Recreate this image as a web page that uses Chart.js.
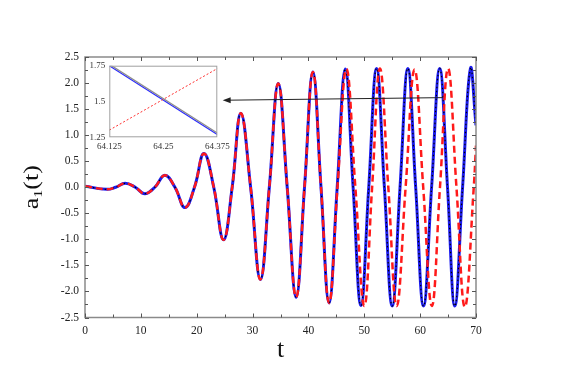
<!DOCTYPE html>
<html>
<head>
<meta charset="utf-8">
<script src="https://cdn.jsdelivr.net/npm/chart.js@4.4.1/dist/chart.umd.min.js"></script>
<style>
  html, body { margin: 0; padding: 0; background: #fff; }
  #wrap { position: relative; width: 561px; height: 375px; }
  #main { position: absolute; left: 0; top: 0; }
  #inset { position: absolute; left: 80px; top: 60px; }
</style>
</head>
<body>
<div id="wrap">
  <canvas id="main" width="561" height="375"></canvas>
  <canvas id="inset" width="150" height="100"></canvas>
</div>
<script>
// Blue solid curve (the black dotted one lies on it): extrema and zero crossings
const tBlue = [0, 3.9, 5.5, 7.2, 9.0, 10.7, 12.5, 14.3, 16.1, 17.9, 19.6, 21.3, 23.05, 24.8, 26.35,
  27.9, 29.65, 31.4, 33.0, 34.6, 36.2, 37.8, 39.3, 40.8, 42.25, 43.7, 45.15, 46.6, 48.0, 49.4,
  50.8, 52.2, 53.6, 55.0, 56.4, 57.8, 59.2, 60.6, 62.05, 63.5, 64.9, 66.2, 67.6, 69.0, 70];
const aBlue = [0.02, -0.04, 0, 0.075, 0, -0.125, 0, 0.23, 0, -0.39, 0, 0.65, 0, -1.01, 0,
  1.42, 0, -1.77, 0, 1.99, 0, -2.11, 0, 2.21, 0, -2.22, 0, 2.27, 0, -2.27,
  0, 2.28, 0, -2.28, 0, 2.28, 0, -2.28, 0, 2.28, 0, -2.28, 0, 2.28, 1.19];

// Red dashed curve, drifts behind the blue one after t ~ 45
const tRed = [0, 3.9, 5.5, 7.2, 9.0, 10.7, 12.5, 14.3, 16.1, 17.9, 19.6, 21.3, 23.05, 24.8, 26.35,
  27.9, 29.65, 31.4, 33.0, 34.6, 36.2, 37.8, 39.3, 40.8, 42.25, 43.7, 45.2, 46.8, 48.4, 50.0,
  51.4, 52.8, 54.3, 55.8, 57.4, 59.0, 60.55, 62.1, 63.55, 65.0, 66.5, 68.0, 69.6, 70];
const aRed = [0.02, -0.04, 0, 0.075, 0, -0.125, 0, 0.23, 0, -0.39, 0, 0.65, 0, -1.01, 0,
  1.42, 0, -1.77, 0, 1.99, 0, -2.11, 0, 2.21, 0, -2.22, 0, 2.27, 0, -2.28,
  0, 2.28, 0, -2.28, 0, 2.26, 0, -2.28, 0, 2.28, 0, -2.30, 0, 0.8];

// Main axes ticks
const xTicks = [0, 10, 20, 30, 40, 50, 60, 70];
const xMinor = [5, 15, 25, 35, 45, 55, 65];
const yTicks = [-2.5, -2.0, -1.5, -1.0, -0.5, 0.0, 0.5, 1.0, 1.5, 2.0, 2.5];
const yMinor = [-2.25, -1.75, -1.25, -0.75, -0.25, 0.25, 0.75, 1.25, 1.75, 2.25];

// Inset (zoom around t = 64.25)
const insetT = [64.125, 64.375];
const insetBlue = [1.75, 1.27];
const insetBlack = [1.76, 1.28];
const insetRed = [1.30, 1.73];
const insetXTicks = [64.125, 64.25, 64.375];
const insetYTicks = [1.25, 1.5, 1.75];

// Arrow from the curves to the inset (data coordinates)
const arrowFrom = { x: 64.1, y: 1.72 };
const arrowTo = { x: 24.65, y: 1.67 };

const serif = '"Liberation Serif", "DejaVu Serif", serif';
const pts = (ts, as) => ts.map((t, i) => ({ x: t, y: as[i] }));

// Grey frame with inward ticks on all four sides, plus the arrow
const frameTicks = {
  id: 'frameTicks',
  afterDatasetsDraw(chart) {
    const { ctx, chartArea: a, scales: { x, y } } = chart;
    ctx.save();
    ctx.strokeStyle = '#8a8a8a';
    ctx.lineWidth = 1.5;
    ctx.strokeRect(a.left, a.top, a.right - a.left, a.bottom - a.top);
    ctx.strokeStyle = '#555';
    ctx.lineWidth = 1;
    ctx.beginPath();
    const xt = (v, len) => {
      const px = Math.round(x.getPixelForValue(v)) + 0.5;
      ctx.moveTo(px, a.bottom); ctx.lineTo(px, a.bottom - len);
      ctx.moveTo(px, a.top); ctx.lineTo(px, a.top + len);
    };
    const yt = (v, len) => {
      const py = Math.round(y.getPixelForValue(v)) + 0.5;
      ctx.moveTo(a.left, py); ctx.lineTo(a.left + len, py);
      ctx.moveTo(a.right, py); ctx.lineTo(a.right - len, py);
    };
    xTicks.forEach(v => xt(v, 4));
    xMinor.forEach(v => xt(v, 3));
    yTicks.forEach(v => yt(v, 4));
    yMinor.forEach(v => yt(v, 3));
    ctx.stroke();

    // arrow pointing at the inset
    const x0 = x.getPixelForValue(arrowFrom.x), y0 = y.getPixelForValue(arrowFrom.y);
    const x1 = x.getPixelForValue(arrowTo.x), y1 = y.getPixelForValue(arrowTo.y);
    const ang = Math.atan2(y1 - y0, x1 - x0);
    ctx.strokeStyle = '#222';
    ctx.fillStyle = '#222';
    ctx.lineWidth = 1;
    ctx.beginPath();
    ctx.moveTo(x0, y0);
    ctx.lineTo(x1 - 6 * Math.cos(ang), y1 - 6 * Math.sin(ang));
    ctx.stroke();
    ctx.beginPath();
    ctx.moveTo(x1, y1);
    ctx.lineTo(x1 - 8 * Math.cos(ang) + 3 * Math.sin(ang), y1 - 8 * Math.sin(ang) - 3 * Math.cos(ang));
    ctx.lineTo(x1 - 8 * Math.cos(ang) - 3 * Math.sin(ang), y1 - 8 * Math.sin(ang) + 3 * Math.cos(ang));
    ctx.closePath();
    ctx.fill();
    ctx.restore();
  }
};

// y title a1(t) with a real subscript
const yTitle = {
  id: 'yTitle',
  afterDraw(chart) {
    const { ctx, chartArea: a } = chart;
    const cy = (a.top + a.bottom) / 2;
    ctx.save();
    ctx.translate(38, cy);
    ctx.rotate(-Math.PI / 2);
    ctx.scale(1, 0.8);
    ctx.fillStyle = '#111';
    ctx.textBaseline = 'alphabetic';
    ctx.font = '26px ' + serif;
    const wa = ctx.measureText('a').width;
    const wp = ctx.measureText('(t)').width;
    ctx.font = '16px ' + serif;
    const w1 = ctx.measureText('1').width;
    let u = -(wa + w1 + wp) / 2;
    ctx.font = '26px ' + serif;
    ctx.fillText('a', u, 0);
    u += wa;
    ctx.font = '16px ' + serif;
    ctx.fillText('1', u, 5);
    u += w1;
    ctx.font = '26px ' + serif;
    ctx.fillText('(t)', u, 0);
    ctx.restore();
  }
};

new Chart(document.getElementById('main'), {
  type: 'line',
  data: {
    datasets: [
      {
        label: 'red',
        data: pts(tRed, aRed),
        borderColor: '#ff1a1a',
        borderWidth: 2.5,
        borderDash: [7, 4],
        order: 0
      },
      {
        label: 'black',
        data: pts(tBlue, aBlue),
        borderColor: '#000',
        borderWidth: 1.2,
        borderDash: [1.5, 2.5],
        order: 1
      },
      {
        label: 'blue',
        data: pts(tBlue, aBlue),
        borderColor: '#1c1cf0',
        borderWidth: 3,
        order: 2
      }
    ]
  },
  options: {
    responsive: false,
    animation: false,
    layout: { padding: { top: 57, right: 85, bottom: 0, left: 0 } },
    elements: { point: { radius: 0 }, line: { tension: 0.42, fill: false } },
    plugins: { legend: { display: false }, tooltip: { enabled: false } },
    scales: {
      x: {
        type: 'linear', min: 0, max: 70,
        grid: { display: false, drawTicks: false },
        border: { display: false },
        afterBuildTicks: s => { s.ticks = xTicks.map(v => ({ value: v })); },
        afterFit: s => { s.height = 57.5; s.paddingLeft = 0; s.paddingRight = 0; },
        ticks: { padding: 7, color: '#222', font: { family: serif, size: 11.5 }, callback: v => String(v) },
        title: { display: true, text: 't', color: '#111', font: { family: serif, size: 26 }, padding: { top: 0, bottom: 9 } }
      },
      y: {
        type: 'linear', min: -2.5, max: 2.5,
        grid: { display: false, drawTicks: false },
        border: { display: false },
        afterBuildTicks: s => { s.ticks = yTicks.map(v => ({ value: v })); },
        afterFit: s => { s.width = 85; s.paddingTop = 0; s.paddingBottom = 0; },
        ticks: { padding: 6, color: '#222', font: { family: serif, size: 11.5 }, callback: v => v.toFixed(1) }
      }
    }
  },
  plugins: [frameTicks, yTitle]
});

// Inset: white plot box with a light grey border
const insetBox = {
  id: 'insetBox',
  beforeDatasetsDraw(chart) {
    const { ctx, chartArea: a } = chart;
    ctx.save();
    ctx.fillStyle = '#fff';
    ctx.fillRect(a.left, a.top, a.right - a.left, a.bottom - a.top);
    ctx.restore();
  },
  afterDatasetsDraw(chart) {
    const { ctx, chartArea: a } = chart;
    ctx.save();
    ctx.strokeStyle = '#a0a0a0';
    ctx.lineWidth = 1;
    ctx.strokeRect(a.left + 0.5, a.top + 0.5, a.right - a.left - 1, a.bottom - a.top - 1);
    ctx.restore();
  }
};

new Chart(document.getElementById('inset'), {
  type: 'line',
  data: {
    datasets: [
      { data: pts(insetT, insetRed), borderColor: '#ff3030', borderWidth: 1, borderDash: [2, 2] },
      { data: pts(insetT, insetBlack), borderColor: '#8c8c8c', borderWidth: 1.3 },
      { data: pts(insetT, insetBlue), borderColor: '#2a2aff', borderWidth: 1.3 }
    ]
  },
  options: {
    responsive: false,
    animation: false,
    layout: { padding: { top: 5.7, right: 12.7, bottom: 0, left: 0 } },
    elements: { point: { radius: 0 }, line: { tension: 0 } },
    plugins: { legend: { display: false }, tooltip: { enabled: false } },
    scales: {
      x: {
        type: 'linear', min: 64.125, max: 64.375,
        grid: { display: false, drawTicks: false },
        border: { display: false },
        afterBuildTicks: s => { s.ticks = insetXTicks.map(v => ({ value: v })); },
        afterFit: s => { s.height = 22.7; s.paddingLeft = 0; s.paddingRight = 0; },
        ticks: { padding: 4, color: '#333', font: { family: serif, size: 9 }, callback: v => String(v) }
      },
      y: {
        type: 'linear', min: 1.25, max: 1.75,
        grid: { display: false, drawTicks: false },
        border: { display: false },
        afterBuildTicks: s => { s.ticks = insetYTicks.map(v => ({ value: v })); },
        afterFit: s => { s.width = 29.3; s.paddingTop = 0; s.paddingBottom = 0; },
        ticks: { padding: 4, color: '#333', font: { family: serif, size: 9 }, callback: v => String(v) }
      }
    }
  },
  plugins: [insetBox]
});
</script>
</body>
</html>
